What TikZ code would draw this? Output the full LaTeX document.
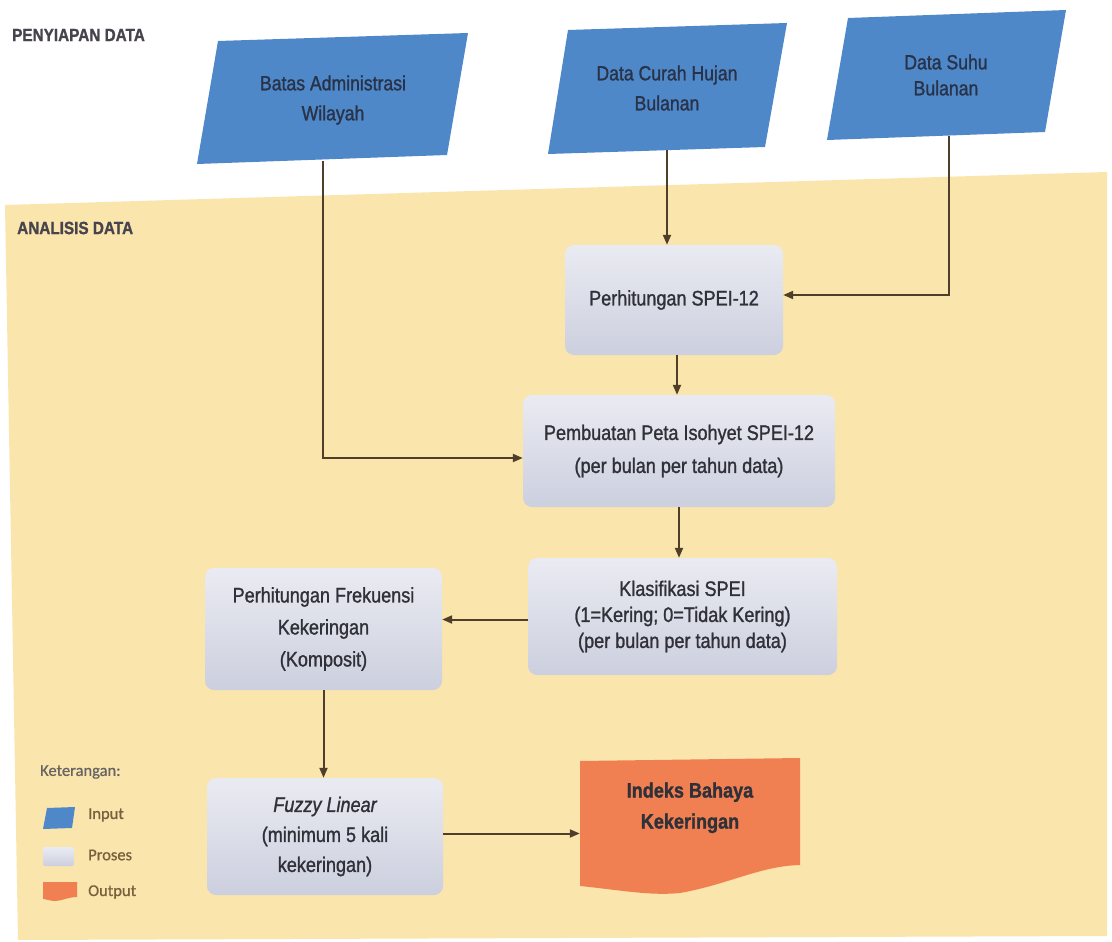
\documentclass[tikz,border=0pt]{standalone}
\usepackage{fontspec}
\setmainfont{Liberation Sans}
\newfontfamily\condensed[FakeStretch=0.86,FakeBold=1.2]{Liberation Sans}
\newfontfamily\legendfont[FakeBold=0.8]{Carlito}
\usetikzlibrary{arrows.meta,calc}

\definecolor{paper}{RGB}{250,229,172}
\definecolor{inputblue}{RGB}{78,136,201}
\definecolor{outorange}{RGB}{240,128,82}
\definecolor{procTop}{RGB}{234,235,242}
\definecolor{procBot}{RGB}{204,207,222}
\definecolor{wire}{RGB}{78,62,42}
\definecolor{ink}{RGB}{48,48,56}
\definecolor{inkblue}{RGB}{40,50,72}
\definecolor{headink}{RGB}{72,68,78}
\definecolor{legendink}{RGB}{120,95,62}
\definecolor{legendgrey}{RGB}{105,100,100}

\tikzset{
  procbox/.style={rectangle, rounded corners=9pt, top color=procTop,
    bottom color=procBot, draw=none, align=center, text=ink,
    font=\condensed\fontsize{21}{30}\selectfont, inner sep=0pt},
  inbox/.style={rectangle, draw=none, align=center, text=inkblue,
    font=\condensed\fontsize{20.5}{30}\selectfont, inner sep=0pt},
  conn/.style={draw=wire, line width=2pt, -{Triangle[length=10pt,width=8pt]}},
  sectionlabel/.style={anchor=west, inner sep=0pt, text=headink,
    font=\condensed\bfseries\fontsize{17.8}{20}\selectfont},
  legendlabel/.style={anchor=west, inner sep=0pt, text=legendink,
    font=\legendfont\fontsize{16.5}{18}\selectfont},
}

\begin{document}
\begin{tikzpicture}[x=1pt, y=-1pt]
  \useasboundingbox (0,0) rectangle (1112,942);
  \fill[white] (0,0) rectangle (1112,942);

  % analysis band
  \fill[paper] (5,205) -- (1107,172) -- (1107,936) -- (18,940) -- cycle;

  % section headings
  \node[sectionlabel] (hprep) at (12,35) {PENYIAPAN DATA};
  \node[sectionlabel] (hanal) at (17,228) {ANALISIS DATA};

  % input parallelograms
  \fill[inputblue] (218,41) -- (468,33) -- (447,155) -- (197,164) -- cycle;
  \fill[inputblue] (568,30) -- (787,23) -- (765,147) -- (548,154) -- cycle;
  \fill[inputblue] (848,18) -- (1066,10) -- (1045,132) -- (827,140) -- cycle;

  \node[inbox, minimum width=200pt, minimum height=122pt] (p1) at (333,100)
    {Batas Administrasi\\Wilayah};
  \node[inbox, minimum width=190pt, minimum height=124pt] (p2) at (667,88)
    {Data Curah Hujan\\Bulanan};
  \node[inbox, minimum width=190pt, minimum height=122pt,
    font=\condensed\fontsize{20.5}{26}\selectfont] (p3) at (946,75)
    {Data Suhu\\Bulanan};

  % process steps
  \node[procbox, minimum width=218pt, minimum height=110pt] (b1) at (674,300)
    {Perhitungan SPEI-12};
  \node[procbox, minimum width=312pt, minimum height=112pt,
    font=\condensed\fontsize{21}{33}\selectfont] (b2) at (679,451)
    {Pembuatan Peta Isohyet SPEI-12\\(per bulan per tahun data)};
  \node[procbox, minimum width=309pt, minimum height=117pt,
    font=\condensed\fontsize{21}{26}\selectfont] (b3) at (682.5,616.5)
    {Klasifikasi SPEI\\(1=Kering; 0=Tidak Kering)\\(per bulan per tahun data)};
  \node[procbox, minimum width=237pt, minimum height=122pt,
    font=\condensed\fontsize{21}{32}\selectfont] (b4) at (323.5,629)
    {Perhitungan Frekuensi\\Kekeringan\\(Komposit)};
  \node[procbox, minimum width=236pt, minimum height=117pt] (b5) at (325,836.5)
    {\itshape Fuzzy Linear\\(minimum 5 kali\\kekeringan)};

  % output document shape
  \fill[outorange] (580,761) -- (800,758) -- (800,865)
    .. controls (760,866) and (730,884) .. (680,893)
    .. controls (650,896) and (620,890) .. (580,886) -- cycle;
  \node[inner sep=0pt, minimum width=220pt, minimum height=132pt, align=center,
    text=ink, font=\condensed\bfseries\fontsize{21}{31}\selectfont] (out) at (690,827)
    {Indeks Bahaya\\Kekeringan\\[12pt]};

  % connectors
  \draw[conn] ([xshift=-10pt]p1.south) |- ([yshift=-7pt]b2.west);
  \draw[conn] (p2.south) -- (p2.south |- b1.north);
  \draw[conn] ([xshift=3pt]p3.south) |- ([yshift=5pt]b1.east);
  \draw[conn] ([xshift=3pt]b1.south) -- ([xshift=3pt]b1.south |- b2.north);
  \draw[conn] (b2.south) -- (b2.south |- b3.north);
  \draw[conn] ([yshift=-3pt]b3.west) -- ([yshift=-3pt]b3.west -| b4.east);
  \draw[conn] (b4.south) -- (b4.south |- b5.north);
  \draw[conn] ([yshift=3pt]b5.east) -- ([yshift=3pt]b5.east -| out.west);

  % legend
  \node[anchor=west, inner sep=0pt, text=legendgrey,
    font=\legendfont\fontsize{16.5}{18}\selectfont] (keyhead) at (40,772) {Keterangan:};
  \fill[inputblue] (47,808) -- (75,807) -- (72,828) -- (43,829) -- cycle;
  \shade[top color=procTop, bottom color=procBot, rounded corners=2pt]
    (43,847) rectangle (74,866);
  \fill[outorange] (43,882) -- (77,882) -- (77,897)
    .. controls (68,897) and (62,901) .. (55,901)
    .. controls (50,901) and (46,899) .. (43,899) -- cycle;
  \node[legendlabel] (kin) at (88,815) {Input};
  \node[legendlabel] (kproc) at (88,855) {Proses};
  \node[legendlabel] (kout) at (88,892) {Output};
\end{tikzpicture}
\end{document}
